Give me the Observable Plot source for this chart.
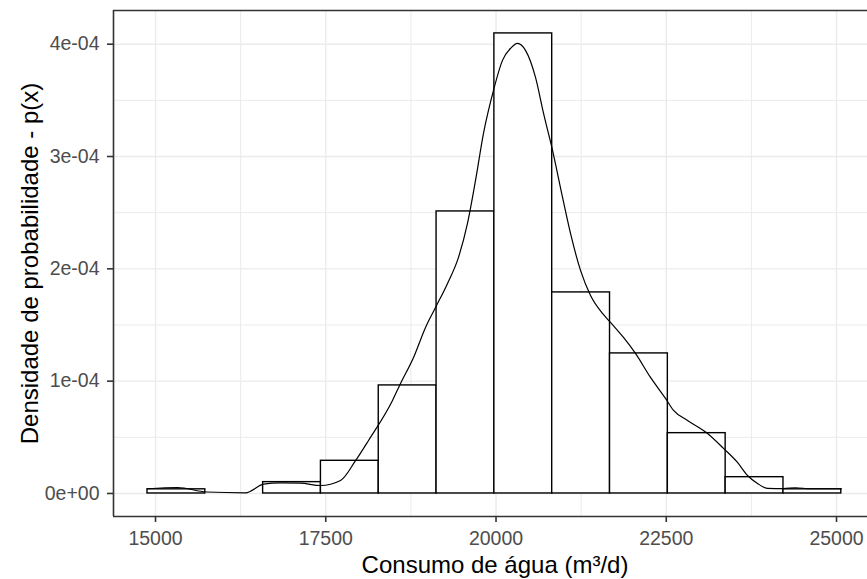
<!DOCTYPE html>
<html><head><meta charset="utf-8">
<script src="https://cdn.jsdelivr.net/npm/d3@7"></script>
<script src="https://cdn.jsdelivr.net/npm/@observablehq/plot@0.6"></script>
<style>html,body{margin:0;padding:0;background:#fff;} svg{display:block}</style>
</head><body><div id="chart"></div>
<script>
// Histogram bin edges and density heights
const binEdges = [14882, 15731, 16580, 17429, 18278, 19127, 19976, 20825, 21674, 22523, 23372, 24221, 25070];
const binDensity = [3.7e-6, 0, 1.01e-5, 2.91e-5, 9.62e-5, 2.511e-4, 4.096e-4, 1.790e-4, 1.247e-4, 5.37e-5, 1.45e-5, 3.7e-6];

// Kernel density curve
const densX = [14883, 15323, 15749, 16322, 16586, 16836, 17129, 17423, 17717, 17937, 18128, 18480, 18598, 18789, 18965, 19112, 19288, 19449, 19581, 19699, 19816, 19963, 20095, 20213, 20316, 20433, 20580, 20698, 20830, 20977, 21094, 21241, 21388, 21564, 21681, 21872, 22048, 22269, 22489, 22607, 22812, 23106, 23341, 23546, 23693, 23840, 23987, 24222, 24398, 24618, 25073];
const densY = [4.2e-6, 5.3e-6, 1.3e-6, 0.6e-6, 8.3e-6, 9.5e-6, 9.2e-6, 7.1e-6, 1.16e-5, 2.92e-5, 4.72e-5, 8.28e-5, 9.80e-5, 1.211e-4, 1.478e-4, 1.656e-4, 1.870e-4, 2.102e-4, 2.404e-4, 2.787e-4, 3.206e-4, 3.589e-4, 3.856e-4, 3.963e-4, 4.007e-4, 3.945e-4, 3.704e-4, 3.384e-4, 3.055e-4, 2.636e-4, 2.315e-4, 1.986e-4, 1.763e-4, 1.603e-4, 1.523e-4, 1.389e-4, 1.247e-4, 1.033e-4, 8.46e-5, 7.39e-5, 6.50e-5, 5.34e-5, 4.01e-5, 2.76e-5, 1.60e-5, 8.9e-6, 4.5e-6, 4.3e-6, 5.1e-6, 4.2e-6, 4.2e-6];

const xTicks = [15000, 17500, 20000, 22500, 25000];
const xTickLabels = ["15000", "17500", "20000", "22500", "25000"];
const xMinor = [16250, 18750, 21250, 23750];
const yTicks = [0, 1e-4, 2e-4, 3e-4, 4e-4];
const yTickLabels = ["0e+00", "1e-04", "2e-04", "3e-04", "4e-04"];
const yMinor = [5e-5, 1.5e-4, 2.5e-4, 3.5e-4];
const xTitle = "Consumo de água (m³/d)";
const yTitle = "Densidade de probabilidade - p(x)";

const xDomain = [14383, 25455];
const yDomain = [-2.05e-5, 4.30e-4];

const bins = binDensity.map((d, i) => ({x1: binEdges[i], x2: binEdges[i + 1], y: d}));
const dens = densX.map((x, i) => ({x, y: densY[i]}));

const gridColor = "#EBEBEB";
const border = "#333333";

const chart = Plot.plot({
  width: 867, height: 579,
  marginLeft: 113, marginRight: 0, marginTop: 10, marginBottom: 63,
  style: {fontFamily: "Arial, 'Liberation Sans', sans-serif", background: "#fff", overflow: "hidden"},
  x: {domain: xDomain},
  y: {domain: yDomain},
  marks: [
    Plot.gridX(xMinor, {stroke: gridColor, strokeOpacity: 1, strokeWidth: 1}),
    Plot.gridY(yMinor, {stroke: gridColor, strokeOpacity: 1, strokeWidth: 1}),
    Plot.gridX(xTicks, {stroke: gridColor, strokeOpacity: 1, strokeWidth: 1.4}),
    Plot.gridY(yTicks, {stroke: gridColor, strokeOpacity: 1, strokeWidth: 1.4}),
    Plot.rectY(bins, {x1: "x1", x2: "x2", y: "y", fill: "white", stroke: "black", strokeWidth: 1.4}),
    Plot.line(dens, {x: "x", y: "y", stroke: "black", strokeWidth: 1.2, curve: "monotone-x"}),
    Plot.ruleX([xDomain[0]], {stroke: border, strokeWidth: 1.6}),
    Plot.ruleY([yDomain[0], yDomain[1]], {stroke: border, strokeWidth: 1.6}),
    Plot.axisX(xTicks, {tickSize: 6, tickPadding: 9, stroke: border, strokeWidth: 1.6, fill: "#4D4D4D", fontSize: 19.5,
      tickFormat: d => xTickLabels[xTicks.indexOf(d)], label: null}),
    Plot.axisY(yTicks, {tickSize: 6, tickPadding: 8, stroke: border, strokeWidth: 1.6, fill: "#4D4D4D", fontSize: 19.5,
      tickFormat: d => yTickLabels[yTicks.indexOf(d)], label: null}),
    Plot.text([xTitle], {text: d => d, frameAnchor: "bottom", dx: 4.5, dy: 49, fontSize: 24, fill: "black", lineAnchor: "middle"}),
    Plot.text([yTitle], {text: d => d, frameAnchor: "left", dx: -83, rotate: -90, fontSize: 24, fill: "black", textAnchor: "middle", lineAnchor: "middle"})
  ]
});
document.getElementById("chart").appendChild(chart);
</script>
</body></html>
